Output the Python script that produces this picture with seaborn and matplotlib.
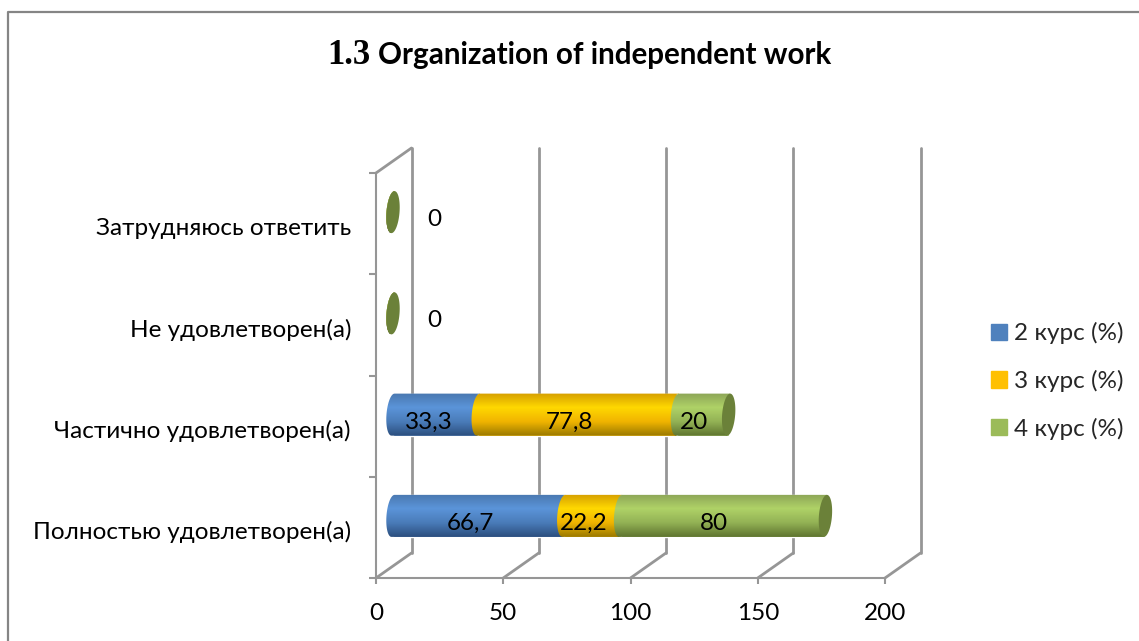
import numpy as np
import pandas as pd
import seaborn as sns
import matplotlib.pyplot as plt
from matplotlib.colors import LinearSegmentedColormap
from matplotlib.lines import Line2D
from matplotlib.patches import Patch, Polygon
from matplotlib.transforms import Affine2D, TransformedPatchPath

categories = ['Затрудняюсь ответить', 'Не удовлетворен(а)', 'Частично удовлетворен(а)', 'Полностью удовлетворен(а)']
course2 = [0, 0, 33.3, 66.7]
course3 = [0, 0, 77.8, 22.2]
course4 = [0, 0, 20, 80]
courses = ['2 курс (%)', '3 курс (%)', '4 курс (%)']
xticks = [0, 50, 100, 150, 200]

W, H = 1139, 641
GRAY = '#969696'
FONT = ['Lato', 'Noto Sans', 'DejaVu Sans']
FS = 17.5

sns.set_theme(style='white')
plt.rcParams['font.family'] = FONT

fig = plt.figure(figsize=(W / 100, H / 100), dpi=100)
ax = fig.add_axes([376 / W, 1 - 578 / H, (885 - 376) / W, (578 - 173) / H])

# shift of the bars into the 3d depth, and of the back wall, in pixels
bar_shift = Affine2D().translate(-376, 0).scale(1.006, 1).translate(376 + 17, 11.5)
wall_shift = Affine2D().translate(35.5, 25)

colors = ['#4f81bd', '#ffc000', '#9bbb59']
shades = [
    ['#4a78b0', '#5b94d9', '#4a7cb9', '#2c4f7f'],
    ['#d6a000', '#ffd800', '#f0b400', '#9b7a00'],
    ['#8da657', '#afd267', '#93b255', '#5f7530'],
]

lefts = np.zeros(len(categories))
for name, vals, col in zip(courses, [course2, course3, course4], colors):
    df = pd.DataFrame({'answer': categories, 'value': vals})
    sns.barplot(data=df, y='answer', x='value', order=categories, color=col, saturation=1,
                width=0.415, left=lefts, errorbar=None, ax=ax)
    lefts = lefts + np.array(vals)

ax.set_autoscale_on(False)
ax.set_xlim(0, 200)
ax.set_ylim(3.5, -0.5)
bar_tr = ax.transData + bar_shift
wall_tr = ax.transData + wall_shift

a = 6.5 / 2.546   # half width of the end ellipse, data units
tilt = 0.6
t_left = np.radians(np.linspace(90, 270, 40))
t_full = np.radians(np.linspace(0, 360, 80))

z = 3
for cont, shade in zip(ax.containers, shades):
    cmap = LinearSegmentedColormap.from_list('s', shade)
    for bar in cont:
        x0, w = bar.get_x(), bar.get_width()
        y0, h = bar.get_y(), bar.get_height()
        yc = y0 + h / 2
        bar.set_transform(bar_tr)
        bar.set_zorder(z)
        bar.set_visible(w > 0)
        xs = x0 + a * np.cos(t_left) + tilt * np.sin(t_left)
        ys = yc - h / 2 * np.sin(t_left)
        pts = np.column_stack([xs, ys])
        pts = np.vstack([pts, [x0 + w - tilt, y0 + h], [x0 + w + tilt, y0]])
        shape = Polygon(pts, closed=True, transform=bar_tr)
        im = ax.imshow(np.linspace(0, 1, 64).reshape(-1, 1), cmap=cmap, aspect='auto',
                       extent=(x0 - a - 2, x0 + w + 2, y0 + h, y0), origin='upper',
                       interpolation='bilinear', zorder=z + 0.1)
        im.set_transform(bar_tr)
        im.set_clip_path(TransformedPatchPath(shape))
    z += 1
ax.set_xlim(0, 200)
ax.set_ylim(3.5, -0.5)

# dark end caps
for i, total in enumerate(lefts):
    bar = ax.containers[-1][i]
    h = bar.get_height()
    yc = bar.get_y() + h / 2
    xs = total + a * np.cos(t_full) + tilt * np.sin(t_full)
    ys = yc - h / 2 * np.sin(t_full)
    ax.add_patch(Polygon(np.column_stack([xs, ys]), closed=True, fc='#6b8139', ec='none',
                         transform=bar_tr, zorder=8))

# value labels
start = np.zeros(len(categories))
for vals in [course2, course3, course4]:
    for i, v in enumerate(vals):
        if v > 0:
            ax.annotate(f'{v:g}'.replace('.', ','), (start[i] + v / 2, i), xytext=(10, 4),
                        textcoords='offset pixels', ha='center', va='center',
                        fontsize=FS, color='black', zorder=9)
    start = start + np.array(vals)
for i, total in enumerate(lefts):
    if total == 0:
        ax.annotate('0', (0, i), xytext=(58, 4), textcoords='offset pixels',
                    ha='center', va='center', fontsize=FS, color='black', zorder=9)

# back wall and floor lines
for xt in xticks:
    ax.plot([xt, xt], [3.5, -0.5], color=GRAY, lw=2, clip_on=False, zorder=1, transform=wall_tr)
    p0 = ax.transData.transform((xt, 3.5))
    p1 = wall_shift.transform(p0)
    ax.add_line(Line2D([p0[0], p1[0]], [p0[1], p1[1]], color=GRAY, lw=2, clip_on=False,
                       transform=None, zorder=1))
p0 = ax.transData.transform((0, -0.5))
p1 = wall_shift.transform(p0)
ax.add_line(Line2D([p0[0], p1[0]], [p0[1], p1[1]], color=GRAY, lw=2, clip_on=False,
                   transform=None, zorder=1))

sns.despine(ax=ax)
for s in ['left', 'bottom']:
    ax.spines[s].set_color(GRAY)
    ax.spines[s].set_linewidth(1.5)
ax.set_xlabel('')
ax.set_ylabel('')
ax.set_xticks(xticks)
ax.set_yticks(range(len(categories)))
ax.set_yticklabels(categories)
ax.set_yticks(np.arange(-0.5, 4), minor=True)
ax.tick_params(axis='y', which='major', length=0, pad=18, labelsize=FS, labelcolor='black')
ax.tick_params(axis='y', which='minor', length=5, width=1.5, color=GRAY, left=True)
ax.tick_params(axis='x', length=4, width=1.5, color=GRAY, bottom=True, pad=14, labelsize=FS, labelcolor='black')
for lab in ax.get_yticklabels():
    lab.set_transform(lab.get_transform() + Affine2D().translate(0, -3))

handles = [Patch(color=c) for c in colors]
fig.legend(handles=handles, labels=courses, loc='center left',
           bbox_to_anchor=(991 / W, 1 - 381 / H), frameon=False, fontsize=FS,
           labelspacing=1.05, handlelength=0.66, handleheight=0.66, handletextpad=0.3,
           borderpad=0, borderaxespad=0)

fig.text(370 / W, 1 - 64 / H, '1.3', family='Liberation Serif', weight='bold', fontsize=25,
         ha='right', va='baseline', color='black')
fig.text(378 / W, 1 - 64 / H, 'Organization of independent work', weight='bold', fontsize=21.3,
         ha='left', va='baseline', color='black')

# chart frame, open at the right and the bottom
fig.add_artist(Line2D([8 / W, 8 / W, 1], [0, 1 - 12 / H, 1 - 12 / H], color='#858585', lw=1.6,
                      transform=fig.transFigure))

fig.savefig('out.png', dpi=100)
